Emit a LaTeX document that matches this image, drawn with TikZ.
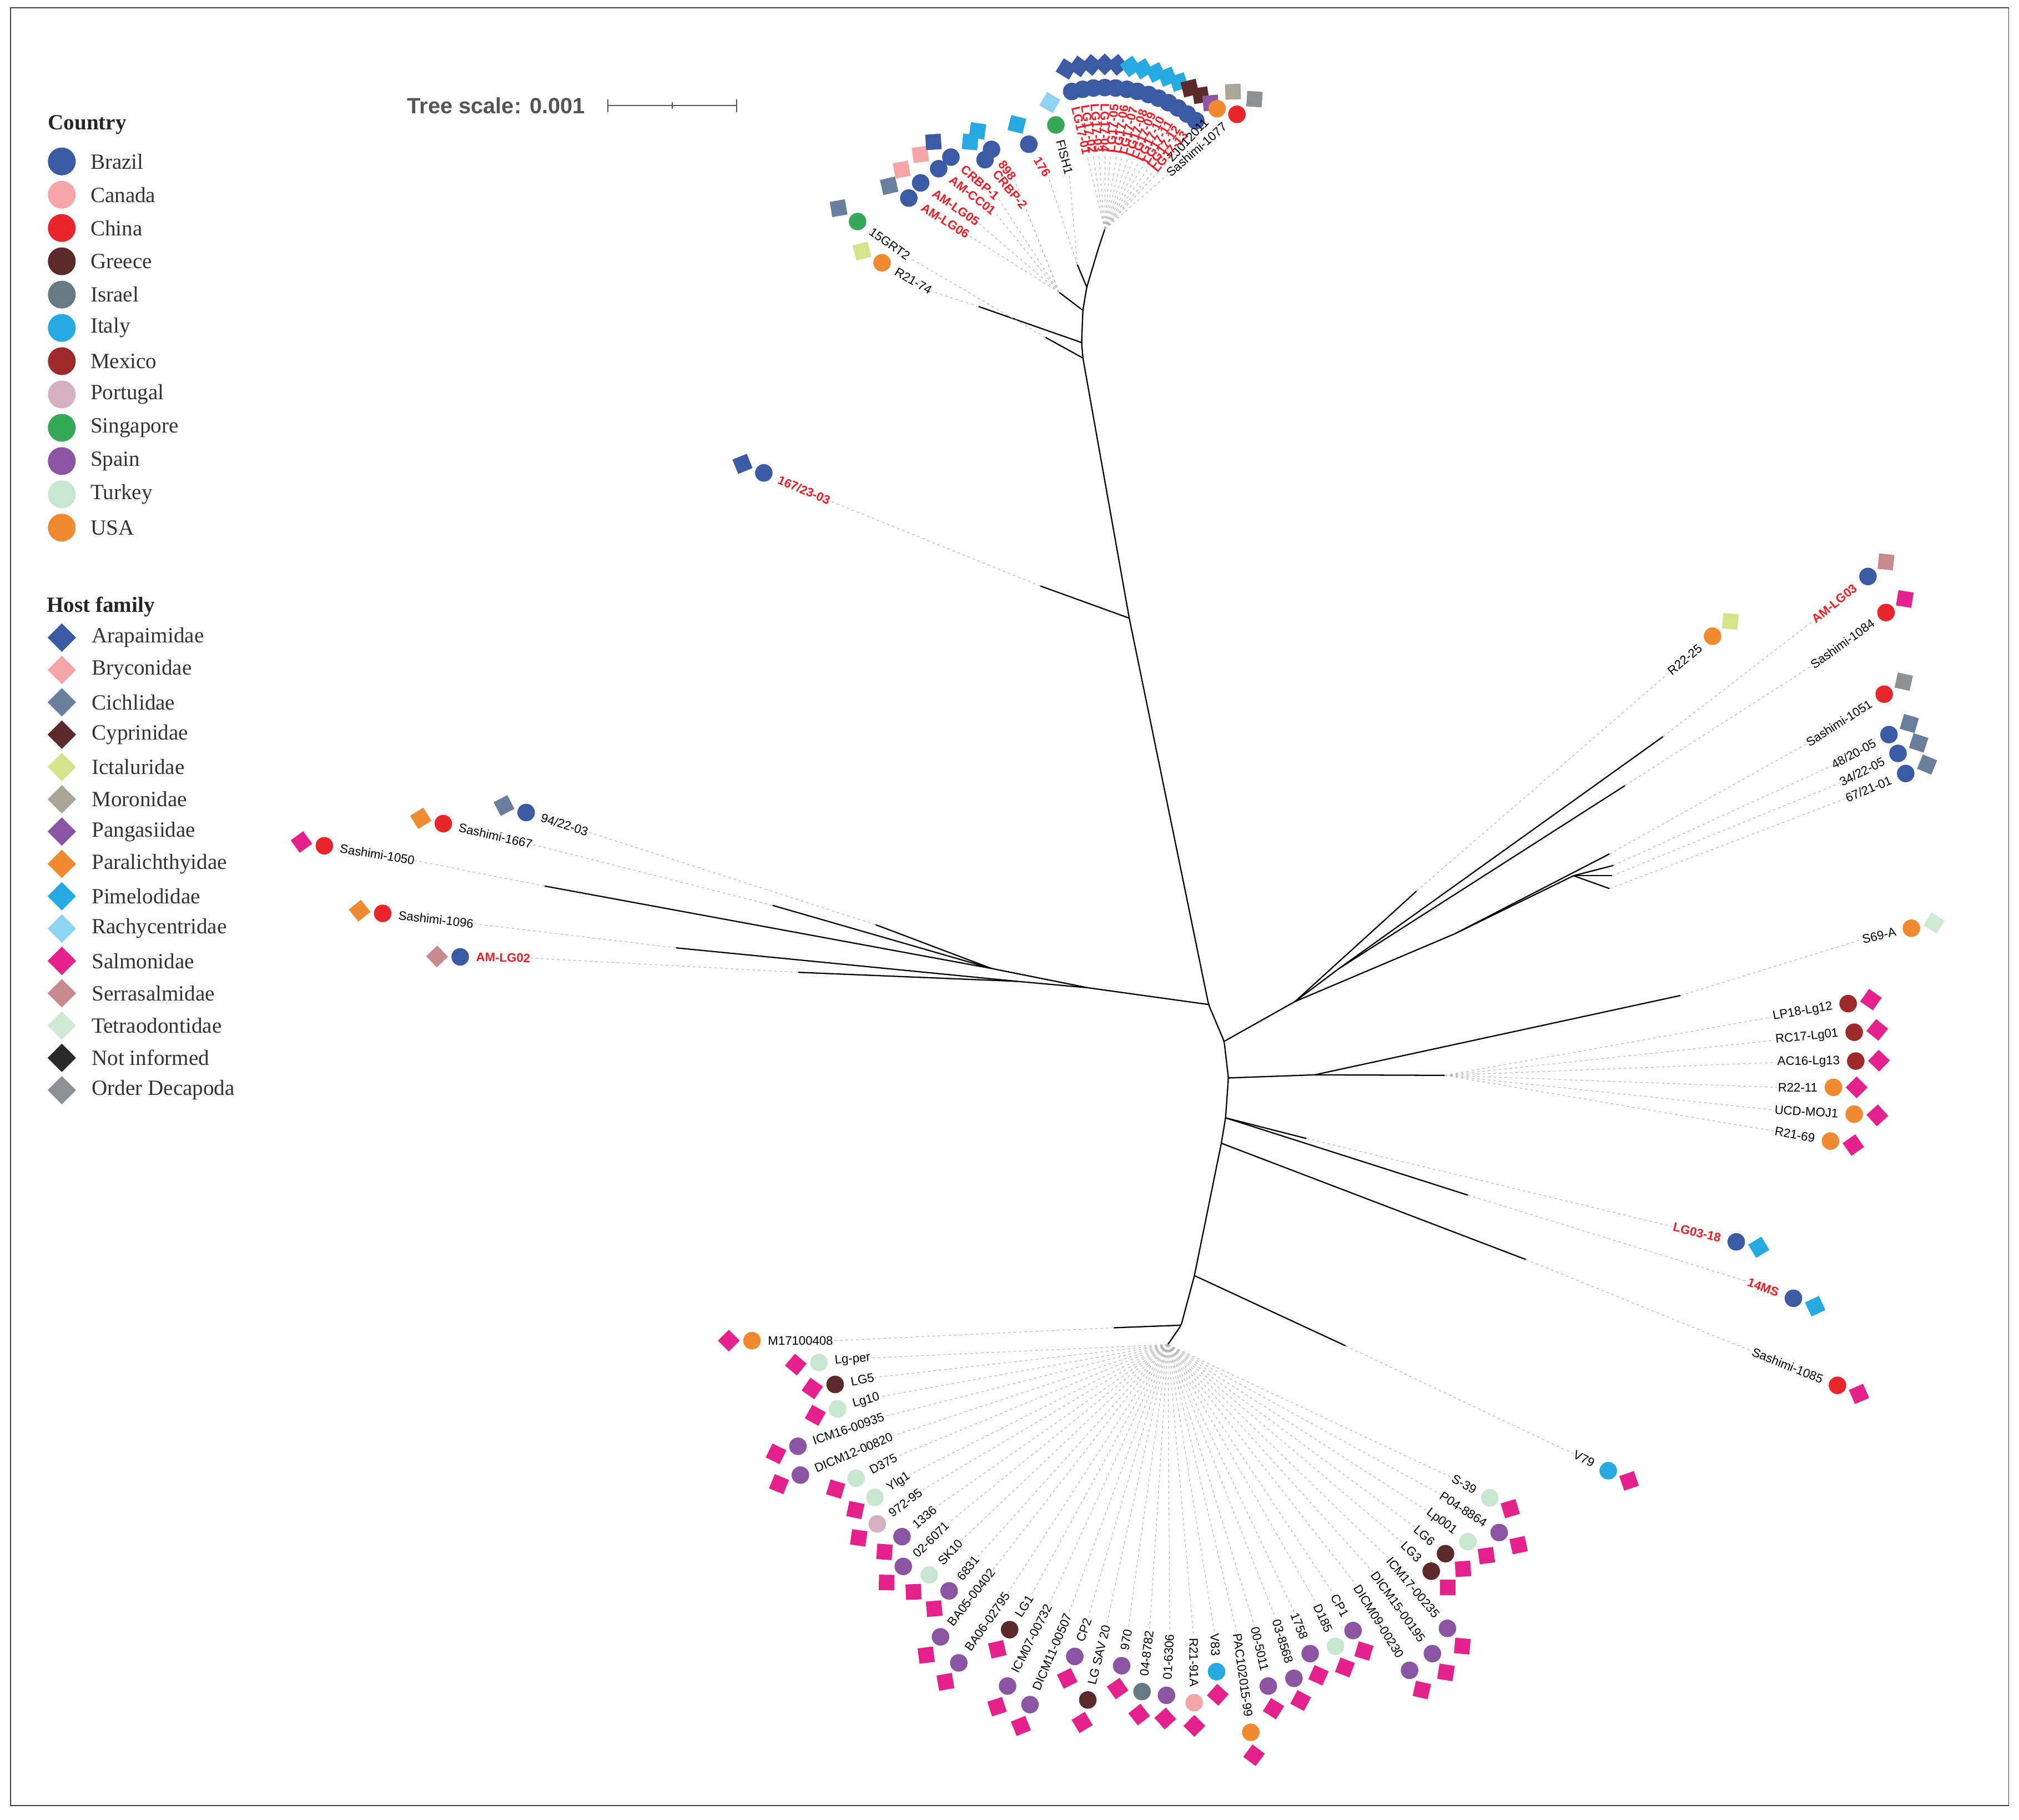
\documentclass[tikz,border=0pt]{standalone}
\usepackage{fontspec}
\setmainfont{Liberation Serif}
\setsansfont{Liberation Sans}
\usetikzlibrary{calc}

\definecolor{cBra}{HTML}{3B5BA5}
\definecolor{cCan}{HTML}{F4A6A8}
\definecolor{cChi}{HTML}{E8262B}
\definecolor{cGre}{HTML}{5C2A2A}
\definecolor{cIsr}{HTML}{677A84}
\definecolor{cIta}{HTML}{27AAE1}
\definecolor{cMex}{HTML}{9E2A2B}
\definecolor{cPor}{HTML}{D4B0C0}
\definecolor{cSin}{HTML}{37A85A}
\definecolor{cSpa}{HTML}{8B55A3}
\definecolor{cTur}{HTML}{C8E6D0}
\definecolor{cUSA}{HTML}{F08A30}
\definecolor{hAra}{HTML}{3B5BA5}
\definecolor{hBry}{HTML}{F4A6A8}
\definecolor{hCic}{HTML}{6A7F9C}
\definecolor{hCyp}{HTML}{5C2A2A}
\definecolor{hIct}{HTML}{D5E38A}
\definecolor{hMor}{HTML}{A8A596}
\definecolor{hPan}{HTML}{8B55A3}
\definecolor{hPar}{HTML}{F08A30}
\definecolor{hPim}{HTML}{27AAE1}
\definecolor{hRac}{HTML}{8FD3F2}
\definecolor{hSal}{HTML}{E5218C}
\definecolor{hSer}{HTML}{C98A8F}
\definecolor{hTet}{HTML}{CFE9D5}
\definecolor{hNot}{HTML}{2B2B2B}
\definecolor{hDec}{HTML}{8E9093}
\definecolor{labred}{HTML}{EE1C25}
\definecolor{scalegray}{HTML}{555555}

\tikzset{
  branch/.style={line width=0.7pt, black},
  leafdash/.style={gray!60, line width=0.35pt, dash pattern=on 1.4pt off 1.6pt},
  ctry/.style={circle, inner sep=0pt, minimum size=3.4mm},
  hostm/.style={rectangle, inner sep=0pt, minimum size=3mm},
  leaflab/.style={font=\sffamily\fontsize{6.8}{7}\selectfont, inner sep=0.4pt},
  redlab/.style={text=labred, font=\sffamily\bfseries\fontsize{6.8}{7}\selectfont},
  blklab/.style={text=black},
  legtitle/.style={font=\bfseries\fontsize{12}{13}\selectfont, text=black!85, inner sep=0pt},
  legtext/.style={font=\fontsize{12}{13}\selectfont, text=black!80, inner sep=0pt},
  frame/.style={draw=black!75, line width=0.6pt},
}

% leaf: name, parent, circle position, angle, text, text style, country, host
\newcommand{\drawleaf}[8]{%
  \node[ctry, fill=#7] (#1c) at (#3) {};
  \node[hostm, fill=#8, rotate=#4+45] (#1h) at ($(#1c)+(#4:4.5mm)$) {};
  \pgfmathsetmacro{\leafcos}{cos(#4)}%
  \ifdim\leafcos pt>0.001pt
    \node[leaflab, #6, rotate=#4, anchor=east] (#1) at ($(#1c)+(#4+180:2.9mm)$) {#5};
    \draw[leafdash] (#2) -- (#1.west);
  \else
    \node[leaflab, #6, rotate=#4+180, anchor=west] (#1) at ($(#1c)+(#4+180:2.9mm)$) {#5};
    \draw[leafdash] (#2) -- (#1.east);
  \fi
}

\begin{document}
\begin{tikzpicture}[x=0.25mm, y=-0.25mm]
\useasboundingbox (0,0) rectangle (1568,1413);
\draw[frame] (8,6) rectangle (1560,1402);

% legend
\node[legtitle, anchor=west] (ctitle) at (37,97) {Country};
\foreach \nm/\col [count=\i] in {Brazil/cBra, Canada/cCan, China/cChi, Greece/cGre,
    Israel/cIsr, Italy/cIta, Mexico/cMex, Portugal/cPor, Singapore/cSin,
    Spain/cSpa, Turkey/cTur, USA/cUSA} {
  \node[ctry, minimum size=5.4mm, fill=\col] (lc\i) at (48,99.5+25.85*\i) {};
  \node[legtext, anchor=west] (lct\i) at (70,99.5+25.85*\i) {\nm};
}
\node[legtitle, anchor=west] (htitle) at (36,471) {Host family};
\foreach \nm/\col [count=\i] in {Arapaimidae/hAra, Bryconidae/hBry, Cichlidae/hCic,
    Cyprinidae/hCyp, Ictaluridae/hIct, Moronidae/hMor, Pangasiidae/hPan,
    Paralichthyidae/hPar, Pimelodidae/hPim, Rachycentridae/hRac, Salmonidae/hSal,
    Serrasalmidae/hSer, Tetraodontidae/hTet, Not informed/hNot, Order Decapoda/hDec} {
  \node[hostm, minimum size=3.9mm, rotate=45, fill=\col] (lh\i) at (48,470+25.1*\i) {};
  \node[legtext, anchor=west] (lht\i) at (71,470+25.1*\i) {\nm};
}

% tree scale
\node[font=\sffamily\bfseries\fontsize{12.2}{13}\selectfont, text=scalegray, anchor=west, inner sep=0pt] (tscale) at (316,82) {Tree scale: 0.001};
\coordinate (sb0) at (472,82);
\coordinate (sb1) at (572,82);
\coordinate (sbm) at (522,82);
\draw[scalegray, line width=0.6pt] (sb0) -- (sb1);
\draw[scalegray, line width=0.6pt] ($(sb0)+(0,-5)$) -- ($(sb0)+(0,5)$);
\draw[scalegray, line width=0.6pt] ($(sb1)+(0,-5)$) -- ($(sb1)+(0,5)$);
\draw[scalegray, line width=0.6pt] ($(sbm)+(0,-2.5)$) -- ($(sbm)+(0,2.5)$);

% internal nodes
\coordinate (tc) at (858,178);
\coordinate (t1) at (853,193);
\coordinate (t2) at (844,223);
\coordinate (t2b) at (836.7,205.5);
\coordinate (t3) at (841,241);
\coordinate (t3b) at (822.6,227);
\coordinate (b2) at (840,266);
\coordinate (b2r) at (760,238);
\coordinate (b2a) at (841,278);
\coordinate (b2g) at (812,262);
\coordinate (b3) at (877,480);
\coordinate (b3t) at (808,455);
\coordinate (b4) at (938.6,780);
\coordinate (lcn) at (845,767);
\coordinate (la) at (770,752);
\coordinate (lb) at (790,762);
\coordinate (s1050t) at (423,688);
\coordinate (s1667t) at (600,703);
\coordinate (p9422t) at (680,718);
\coordinate (s1096t) at (525,736);
\coordinate (lg02t) at (620,755);
\coordinate (b5) at (950.7,808.6);
\coordinate (ra) at (1005.7,777.7);
\coordinate (rb) at (1040,752);
\coordinate (rc) at (1130,725);
\coordinate (rd) at (1222,680);
\coordinate (r2225t) at (1100,692);
\coordinate (lg03t) at (1291.5,572);
\coordinate (s1084t) at (1262,610);
\coordinate (s1051t) at (1250,663);
\coordinate (c4820t) at (1253,672);
\coordinate (c3422t) at (1252,680);
\coordinate (c6721t) at (1250,690);
\coordinate (b6) at (954,837);
\coordinate (re) at (1021,834.6);
\coordinate (rf) at (1122,835);
\coordinate (s69t) at (1305,773);
\coordinate (b7) at (951.8,868);
\coordinate (lgt) at (1014.5,884);
\coordinate (ms14t) at (1140,928);
\coordinate (b8) at (948.5,887.7);
\coordinate (s1085t) at (1185,978);
\coordinate (b9) at (927.6,990.5);
\coordinate (v79t) at (1045,1045);
\coordinate (b10) at (917.3,1029);
\coordinate (mt) at (865,1031);
\coordinate (bc) at (907,1044);

% branches
\draw[branch, rounded corners=2pt] (tc) -- (t1) -- (t2) -- (t3) -- (b2) -- (b2a) -- (b3) -- (b4)
  -- (b5) -- (b6) -- (b7) -- (b8) -- (b9) -- (b10) -- (bc);
\draw[branch] (b2) -- (b2r);
\draw[branch] (b2a) -- (b2g);
\draw[branch] (t2) -- (t2b);
\draw[branch] (t3) -- (t3b);
\draw[branch] (b3) -- (b3t);
\draw[branch] (b4) -- (lcn);
\draw[branch] (lcn) -- (la);
\draw[branch] (lcn) -- (lb);
\draw[branch] (la) -- (s1050t);
\draw[branch] (la) -- (s1667t);
\draw[branch] (la) -- (p9422t);
\draw[branch] (lb) -- (s1096t);
\draw[branch] (lb) -- (lg02t);
\draw[branch] (b5) -- (ra);
\draw[branch] (ra) -- (r2225t);
\draw[branch] (ra) -- (rb);
\draw[branch] (rb) -- (lg03t);
\draw[branch] (rb) -- (s1084t);
\draw[branch] (ra) -- (rc);
\draw[branch] (rc) -- (s1051t);
\draw[branch] (rc) -- (rd);
\draw[branch] (rd) -- (c4820t);
\draw[branch] (rd) -- (c3422t);
\draw[branch] (rd) -- (c6721t);
\draw[branch] (b6) -- (re);
\draw[branch] (re) -- (rf);
\draw[branch] (re) -- (s69t);
\draw[branch] (b7) -- (lgt);
\draw[branch] (b7) -- (ms14t);
\draw[branch] (b8) -- (s1085t);
\draw[branch] (b9) -- (v79t);
\draw[branch] (b10) -- (mt);

% top cluster
\drawleaf{g15}{b2g}{666,172}{145}{15GRT2}{blklab}{cSin}{hCic}
\drawleaf{r2174}{b2r}{685,204}{150}{R21-74}{blklab}{cUSA}{hIct}
\drawleaf{gl1}{t3b}{705.8,153.8}{148}{AM-LG06}{redlab}{cBra}{hCic}
\drawleaf{gl2}{t3b}{715,142}{145}{AM-LG05}{redlab}{cBra}{hBry}
\drawleaf{gl3}{t3b}{729,131}{142}{AM-CC01}{redlab}{cBra}{hBry}
\drawleaf{gl4}{t3b}{738.5,122}{139}{CRBP-1}{redlab}{cBra}{hAra}
\drawleaf{gl5}{t3b}{765,124}{130}{CRBP-2}{redlab}{cBra}{hPim}
\drawleaf{gl6}{t3b}{770,116}{127}{898}{redlab}{cBra}{hPim}
\drawleaf{l176}{t2b}{799,112}{121}{176}{redlab}{cBra}{hPim}
\drawleaf{fish}{t2b}{820,97}{105}{FISH1}{blklab}{cSin}{hRac}
\foreach \a/\txt/\hc [count=\i] in {103.5/LG17-01/hAra, 99/LG17-02/hAra, 94.6/LG17-03/hAra,
    90/LG17-04/hAra, 85.6/LG17-05/hAra, 81/LG17-06/hPim, 76.7/LG17-07/hPim,
    72/LG17-08/hPim, 67.7/LG17-09/hPim, 63.3/LG17-10/hPim, 58.9/LG17-11/hCyp,
    54.4/LG17-12/hCyp, 50/LG17-13/hPan} {
  \drawleaf{ta\i}{tc}{$(tc)+(\a:27.5mm)$}{\a}{\txt}{redlab}{cBra}{\hc}
}
\drawleaf{ta14}{tc}{$(tc)+(47:32mm)$}{47}{ZJ012011}{blklab}{cUSA}{hMor}
\drawleaf{ta15}{tc}{$(tc)+(41:34mm)$}{41}{Sashimi-1077}{blklab}{cChi}{hDec}
\drawleaf{l167}{b3t}{593.2,367.2}{157}{167/23-03}{redlab}{cBra}{hAra}

% left clade
\drawleaf{p9422}{p9422t}{408.6,630.9}{162.5}{94/22-03}{blklab}{cBra}{hCic}
\drawleaf{s1667}{s1667t}{344.3,639.5}{166.8}{Sashimi-1667}{blklab}{cChi}{hPar}
\drawleaf{s1050}{s1050t}{251.9,656.7}{170.7}{Sashimi-1050}{blklab}{cChi}{hSal}
\drawleaf{s1096}{s1096t}{297.2,709.2}{173.5}{Sashimi-1096}{blklab}{cChi}{hPar}
\drawleaf{amlg02}{lg02t}{357.4,743}{179}{AM-LG02}{redlab}{cBra}{hSer}

% right clades
\drawleaf{r2225}{r2225t}{1330,494}{40}{R22-25}{blklab}{cUSA}{hIct}
\drawleaf{amlg03}{lg03t}{1450.7,447.6}{39}{AM-LG03}{redlab}{cBra}{hSer}
\drawleaf{s1084}{s1084t}{1464.7,475.6}{35.7}{Sashimi-1084}{blklab}{cChi}{hSal}
\drawleaf{s1051}{s1051t}{1463.3,539}{32.6}{Sashimi-1051}{blklab}{cChi}{hDec}
\drawleaf{c4820}{c4820t}{1467,570.4}{28.6}{48/20-05}{blklab}{cBra}{hCic}
\drawleaf{c3422}{c3422t}{1474,585}{27}{34/22-05}{blklab}{cBra}{hCic}
\drawleaf{c6721}{c6721t}{1480,600.6}{22.7}{67/21-01}{blklab}{cBra}{hCic}
\drawleaf{s69}{s69t}{1484.4,720.7}{13}{S69-A}{blklab}{cUSA}{hTet}
\drawleaf{lp18}{rf}{1435.3,779.3}{10}{LP18-Lg12}{blklab}{cMex}{hSal}
\drawleaf{rc17}{rf}{1440,801.5}{5.8}{RC17-Lg01}{blklab}{cMex}{hSal}
\drawleaf{ac16}{rf}{1441.2,823.9}{1}{AC16-Lg13}{blklab}{cMex}{hSal}
\drawleaf{r2211}{rf}{1423.9,844.3}{0}{R22-11}{blklab}{cUSA}{hSal}
\drawleaf{ucd}{rf}{1440,865.1}{-3}{UCD-MOJ1}{blklab}{cUSA}{hSal}
\drawleaf{r2169}{rf}{1421.6,886}{-10}{R21-69}{blklab}{cUSA}{hSal}
\drawleaf{lg0318}{lgt}{1348.4,964.3}{-13.5}{LG03-18}{redlab}{cBra}{hPim}
\drawleaf{ms14}{ms14t}{1392.8,1008.1}{-20}{14MS}{redlab}{cBra}{hPim}
\drawleaf{s1085}{s1085t}{1427,1075.7}{-21.8}{Sashimi-1085}{blklab}{cChi}{hSal}
\drawleaf{v79}{v79t}{1249,1142}{-26}{V79}{blklab}{cIta}{hSal}

% bottom cluster
\drawleaf{m171}{mt}{584,1041}{180}{M17100408}{blklab}{cUSA}{hSal}
\foreach \px/\py/\a/\txt/\cc [count=\i] in {
    636/1058/185/Lg-per/cTur, 648.6/1075/190/LG5/cGre, 650.5/1094/196/Lg10/cTur,
    619.7/1123/199/ICM16-00935/cSpa, 621.6/1145.4/203/DICM12-00820/cSpa,
    664.9/1147.8/208/D375/cTur, 679.4/1162.7/213/Ylg1/cTur, 681.3/1183.3/217/972-95/cPor,
    700.5/1193.2/221/1336/cSpa, 701.5/1216.3/224/02-6071/cSpa, 721.7/1222.9/227/SK10/cTur,
    737.1/1235.3/230/6831/cSpa, 730.4/1271/232/BA05-00402/cSpa,
    744.6/1291.2/235/BA06-02795/cSpa, 784.1/1265.4/238/LG1/cGre,
    782.5/1309.2/243/ICM07-00732/cSpa, 799.9/1323.6/247/DICM11-00507/cSpa,
    834.7/1286.2/251/CP2/cSpa, 844.8/1320/256/LG SAV 20/cGre, 871.1/1293.4/260/970/cSpa,
    886.9/1313.5/263/04-8782/cIsr, 905.9/1316.4/267/01-6306/cSpa,
    927.4/1322.1/270.5/R21-91A/cCan, 944.8/1298/273/V83/cIta,
    971.4/1345.1/278/PAC102015-99/cUSA, 985/1309.2/283/00-5011/cSpa,
    1004.9/1303.2/287/03-8568/cSpa, 1017.5/1284/291/1758/cSpa, 1037.2/1278.3/294/D185/cTur,
    1050.8/1266.1/298/CP1/cSpa, 1094.7/1297/302/DICM09-00230/cSpa,
    1112.4/1284/306/DICM15-00195/cSpa, 1124.1/1264.4/310/ICM17-00235/cSpa,
    1111.5/1220/315/LG3/cGre, 1122.6/1206.4/319/LG6/cGre, 1140/1197.1/323/Lp001/cTur,
    1164.3/1190/327/P04-8864/cSpa, 1157/1163/332/S-39/cTur} {
  \drawleaf{bt\i}{bc}{\px,\py}{\a}{\txt}{blklab}{\cc}{hSal}
}
\end{tikzpicture}
\end{document}
